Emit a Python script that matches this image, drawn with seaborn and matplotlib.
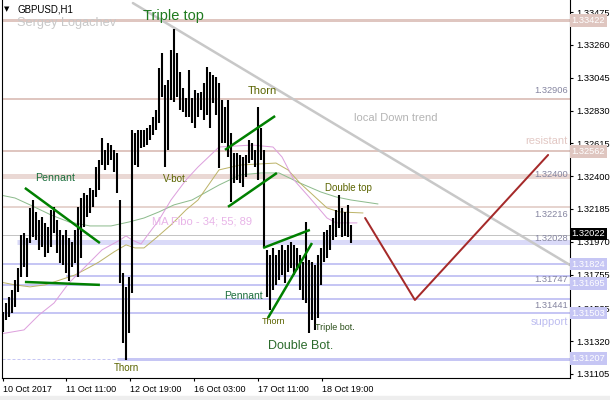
import numpy as np
import pandas as pd
import seaborn as sns
import matplotlib.pyplot as plt
from matplotlib.patches import Rectangle

# GBPUSD H1 bars (high / low per bar)
highs = [1.31511, 1.31569, 1.31609, 1.31655, 1.31720, 1.31799, 1.32015, 1.32028, 1.31995, 1.32192,
         1.32244, 1.32166, 1.32113, 1.32133, 1.32093, 1.32068, 1.32179, 1.32199, 1.32113, 1.32048,
         1.32015, 1.32048, 1.31995, 1.31969, 1.32048, 1.32199, 1.32257, 1.32290, 1.32277, 1.32323,
         1.32310, 1.32460, 1.32506, 1.32650, 1.32572, 1.32618, 1.32604, 1.32572, 1.32552, 1.32244,
         1.31766, 1.31675, 1.31740, 1.32703, 1.32683, 1.32703, 1.32703, 1.32703, 1.32716, 1.32735,
         1.32788, 1.32834, 1.33109, 1.33207, 1.32997, 1.33030, 1.33227, 1.33364, 1.33207, 1.33082,
         1.32978, 1.32912, 1.33096, 1.32912, 1.32965, 1.32945, 1.32951, 1.33010, 1.33115, 1.33082,
         1.33063, 1.33050, 1.33010, 1.32899, 1.32853, 1.32899, 1.32683, 1.32552, 1.32552, 1.32539,
         1.32526, 1.32539, 1.32637, 1.32618, 1.32572, 1.32853, 1.32716, 1.32572, 1.31917, 1.31884,
         1.31930, 1.31884, 1.31917, 1.31950, 1.31917, 1.31950, 1.31969, 1.31950, 1.31930, 1.31884,
         1.31838, 1.32100, 1.31851, 1.31838, 1.31818, 1.31884, 1.31930, 1.32035, 1.32048, 1.32081,
         1.32126, 1.32179, 1.32277, 1.32192, 1.32166, 1.32212, 1.32081]
lows = [1.31380, 1.31458, 1.31478, 1.31504, 1.31543, 1.31642, 1.31740, 1.31805, 1.31740, 1.31962,
        1.32002, 1.31982, 1.31917, 1.31937, 1.31871, 1.31897, 1.31937, 1.32028, 1.31897, 1.31831,
        1.31818, 1.31766, 1.31713, 1.31805, 1.31831, 1.31740, 1.31864, 1.32068, 1.32133, 1.32159,
        1.32199, 1.32264, 1.32310, 1.32473, 1.32441, 1.32473, 1.32506, 1.32428, 1.32290, 1.31701,
        1.31308, 1.31196, 1.31373, 1.31635, 1.32473, 1.32460, 1.32585, 1.32591, 1.32604, 1.32637,
        1.32670, 1.32703, 1.32748, 1.32919, 1.32460, 1.32572, 1.32899, 1.32886, 1.32919, 1.32834,
        1.32820, 1.32788, 1.32788, 1.32748, 1.32716, 1.32788, 1.32834, 1.32768, 1.32801, 1.32716,
        1.32879, 1.32801, 1.32454, 1.32618, 1.32618, 1.32526, 1.32231, 1.32355, 1.32375, 1.32355,
        1.32329, 1.32395, 1.32486, 1.32506, 1.32460, 1.32375, 1.32506, 1.31930, 1.31609, 1.31524,
        1.31655, 1.31688, 1.31720, 1.31753, 1.31701, 1.31773, 1.31799, 1.31753, 1.31786, 1.31655,
        1.31589, 1.31569, 1.31373, 1.31458, 1.31393, 1.31471, 1.31688, 1.31838, 1.31864, 1.31917,
        1.31982, 1.32002, 1.32061, 1.32002, 1.32009, 1.32002, 1.31962]

# MA Fibo 34 / 55 / 89 (bar no., price)
ma34_x = [-1, 7, 12, 17, 22, 29, 33, 39, 41, 43, 46, 49, 52, 56, 61, 65, 72, 83, 90, 93, 97, 102, 108, 111, 118]
ma34 = [1.31366, 1.31393, 1.31491, 1.31569, 1.31701, 1.31838, 1.31917, 1.31982, 1.32009, 1.31982,
        1.31956, 1.32035, 1.32113, 1.32244, 1.32375, 1.32460, 1.32591, 1.32604, 1.32591, 1.32526,
        1.32375, 1.32264, 1.32126, 1.32094, 1.32094]
ma55_x = [-1, 4, 9, 14, 19, 24, 29, 32, 37, 41, 44, 47, 51, 56, 61, 65, 72, 79, 91, 95, 99, 108, 112, 120]
ma55 = [1.31707, 1.31688, 1.31675, 1.31688, 1.31720, 1.31753, 1.31805, 1.31838, 1.31904, 1.31950,
        1.31930, 1.31930, 1.31995, 1.32081, 1.32179, 1.32244, 1.32441, 1.32473, 1.32486, 1.32441,
        1.32355, 1.32192, 1.32166, 1.32159]
ma89_x = [-1, 4, 9, 16, 22, 29, 36, 42, 47, 52, 57, 63, 72, 79, 86, 92, 99, 106, 111, 116, 125]
ma89 = [1.32277, 1.32257, 1.32212, 1.32146, 1.32100, 1.32074, 1.32074, 1.32100, 1.32126, 1.32166,
        1.32212, 1.32244, 1.32342, 1.32408, 1.32421, 1.32421, 1.32355, 1.32296, 1.32264, 1.32244, 1.32218]

# horizontal levels
res_levels = [1.33422, 1.32906, 1.32562, 1.32400, 1.32199]
sup_levels = [1.31969, 1.31825, 1.31747, 1.31690, 1.31596, 1.31504, 1.31203]
grey_level = 1.32012
last_price = 1.32022

# level descriptions drawn at the right end of the lines
level_notes = ["1.32906", "1.32400", "1.32216", "1.32028", "1.31747", "1.31441"]
level_note_y = [1.32964, 1.32408, 1.32152, 1.31995, 1.31720, 1.31556]

# price boxes on the right scale
res_boxes = [1.33422, 1.32562]
sup_boxes = [1.31824, 1.31695, 1.31503, 1.31207]

# trend lines (bar no., price)
green_lines = [((7.3, 1.32323), (32.3, 1.31962)),
               ((7.3, 1.31707), (32.3, 1.31688)),
               ((74.0, 1.32572), (90.7, 1.32794)),
               ((75.0, 1.32199), (91.3, 1.32421)),
               ((86.7, 1.31930), (102.3, 1.32048)),
               ((88.3, 1.31471), (103.0, 1.31962))]
down_trend = [(43.3, 1.33534), (189.0, 1.31818)]
forecast_x = [120.7, 137.3, 181.7]
forecast_y = [1.32126, 1.31589, 1.32539]

price_ticks = [1.33475, 1.33260, 1.33045, 1.32830, 1.32615, 1.32400, 1.32185,
               1.31970, 1.31755, 1.31535, 1.31320, 1.31105]
time_ticks = [0, 21, 42.3, 63.7, 85, 106.3]
time_labels = ["10 Oct 2017", "11 Oct 11:00", "12 Oct 19:00", "16 Oct 03:00", "17 Oct 11:00", "18 Oct 19:00"]

sns.set_style("white")
plt.rcParams['font.family'] = ['Liberation Sans', 'DejaVu Sans']

PX = 0.72  # points per pixel at 100 dpi
RES = '#DFC6C0'
SUP = '#C6C6F4'

fig = plt.figure(figsize=(6.1, 4.0), dpi=100)
ax = fig.add_axes([1.5 / 610, 22 / 400, 568.5 / 610, 378 / 400])
ax.set_xlim(-0.5, 189)
ax.set_ylim(1.31078, 1.33554)

# levels
x0, x1 = -0.5, 189
for lvl, w in zip(res_levels, [3, 2, 2, 5, 1.5]):
    col = '#EAD8D4' if w == 5 else RES
    ax.hlines(lvl, x0, x1, color=col, lw=w * PX, zorder=1)
ax.hlines(grey_level, x0, x1, color='#C4C4C4', lw=1 * PX, zorder=1)
ax.hlines(sup_levels[0], 4.7, x1, color='#DADAF8', lw=5 * PX, zorder=1)
ax.hlines(sup_levels[1], x0, x1, color=SUP, lw=2 * PX, zorder=1)
ax.hlines(sup_levels[2], 21, x1, color=SUP, lw=2 * PX, zorder=1)
for lvl in sup_levels[3:6]:
    ax.hlines(lvl, x0, x1, color=SUP, lw=2 * PX, zorder=1)
ax.hlines(sup_levels[6], x0, 38, color=SUP, lw=1 * PX, ls=(0, (3, 2)), zorder=1)
ax.hlines(sup_levels[6], 38, x1, color=SUP, lw=3 * PX, zorder=1)

# local down trend + forecast
ax.plot([p[0] for p in down_trend], [p[1] for p in down_trend], color='#C8C8C8', lw=2.5 * PX, zorder=1.5)
ax.plot(forecast_x, forecast_y, color='#A52A2A', lw=2 * PX, zorder=3)

# moving averages
for xs, ys, col in [(ma89_x, ma89, '#8DBB8D'), (ma55_x, ma55, '#BDB46A'), (ma34_x, ma34, '#DDA0DD')]:
    df = pd.DataFrame({'bar': xs, 'price': ys})
    sns.lineplot(data=df, x='bar', y='price', color=col, lw=1 * PX, estimator=None, sort=False, ax=ax, zorder=2)

# bars
bars = np.arange(len(highs))
ax.vlines(bars, lows, highs, color='black', lw=1.5, zorder=2.5)

# green pattern lines
for (a, b) in green_lines:
    ax.plot([a[0], b[0]], [a[1], b[1]], color='#008000', lw=2.5 * PX, solid_capstyle='butt', zorder=3)

# annotations
G1 = '#1F7A1F'
G2 = '#1B6E3C'
OL = '#5B6400'
ax.text(56.7, 1.33449, "Triple top", color=G1, fontsize=10.5, ha='center', va='center')
ax.text(86.3, 1.32958, "Thorn", color=OL, fontsize=8, ha='center', va='center')
ax.text(17.3, 1.32388, "Pennant", color=G2, fontsize=7.7, ha='center', va='center')
ax.text(57.7, 1.32382, "V-bot.", color=OL, fontsize=7, ha='center', va='center')
ax.text(49.7, 1.32100, "MA Fibo - 34; 55; 89", color='#E8B4E8', fontsize=8, ha='left', va='center')
ax.text(115, 1.32323, "Double top", color=OL, fontsize=7, ha='center', va='center')
ax.text(131, 1.32781, "local Down trend", color='#B4B4B4', fontsize=8, ha='center', va='center')
ax.text(188.3, 1.32630, "resistant", color='#E2C8C4', fontsize=8, ha='right', va='center')
ax.text(188.3, 1.31445, "support", color='#BDBDF0', fontsize=8, ha='right', va='center')
ax.text(80.3, 1.31615, "Pennant", color=G2, fontsize=7.5, ha='center', va='center')
ax.text(90.3, 1.31445, "Thorn", color=OL, fontsize=6.5, ha='center', va='center')
ax.text(110.7, 1.31406, "Triple bot.", color='#2B4F1A', fontsize=6.5, ha='center', va='center')
ax.text(99.3, 1.31288, "Double Bot.", color='#2C6B2C', fontsize=9, ha='center', va='center')
ax.text(41.3, 1.31144, "Thorn", color=OL, fontsize=7, ha='center', va='center')
ax.text(1.3, 1.33495, "\u25bc", color='black', fontsize=5, ha='center', va='center', family='DejaVu Sans')
ax.text(4.7, 1.33495, "GBPUSD,H1", color='black', fontsize=7, ha='left', va='center')
ax.text(4.7, 1.33405, "Sergey Logachev", color='#C8C8C8', fontsize=9.2, ha='left', va='center')

for txt, y in zip(level_notes, level_note_y):
    ax.text(188.3, y, txt, color='#8585A0', fontsize=6.7, ha='right', va='center')

# right scale boxes
def price_box(p, fc):
    ax.annotate(f"{p:.5f}", xy=(1.003, p), xycoords=('axes fraction', 'data'), color='white',
                fontsize=6.7, ha='left', va='center', annotation_clip=False, zorder=6,
                bbox=dict(boxstyle='square,pad=0.2', fc=fc, ec='none'))

for p in res_boxes:
    price_box(p, RES)
for p in sup_boxes:
    price_box(p, SUP)
price_box(last_price, 'black')

# axes
ax.yaxis.tick_right()
ax.set_yticks(price_ticks)
ax.set_yticklabels([f"{p:.5f}" for p in price_ticks])
ax.set_xticks(time_ticks)
ax.set_xticklabels(time_labels)
for lab in ax.get_xticklabels():
    lab.set_ha('left')
ax.tick_params(axis='y', right=True, length=2.5, width=0.8, pad=2, labelsize=6.7, colors='black')
ax.tick_params(axis='x', bottom=True, length=2.5, width=0.8, pad=2.5, labelsize=6.5, colors='black')
ax.set_xlabel('')
ax.set_ylabel('')
for s in ['left', 'bottom', 'right']:
    ax.spines[s].set_color('black')
    ax.spines[s].set_linewidth(0.8)
ax.spines['top'].set_visible(False)

fig.patches.append(Rectangle((0, 0), 1, 4 / 400, transform=fig.transFigure, color='#EEEEEE', zorder=0))

fig.savefig('out.png', dpi=100)
